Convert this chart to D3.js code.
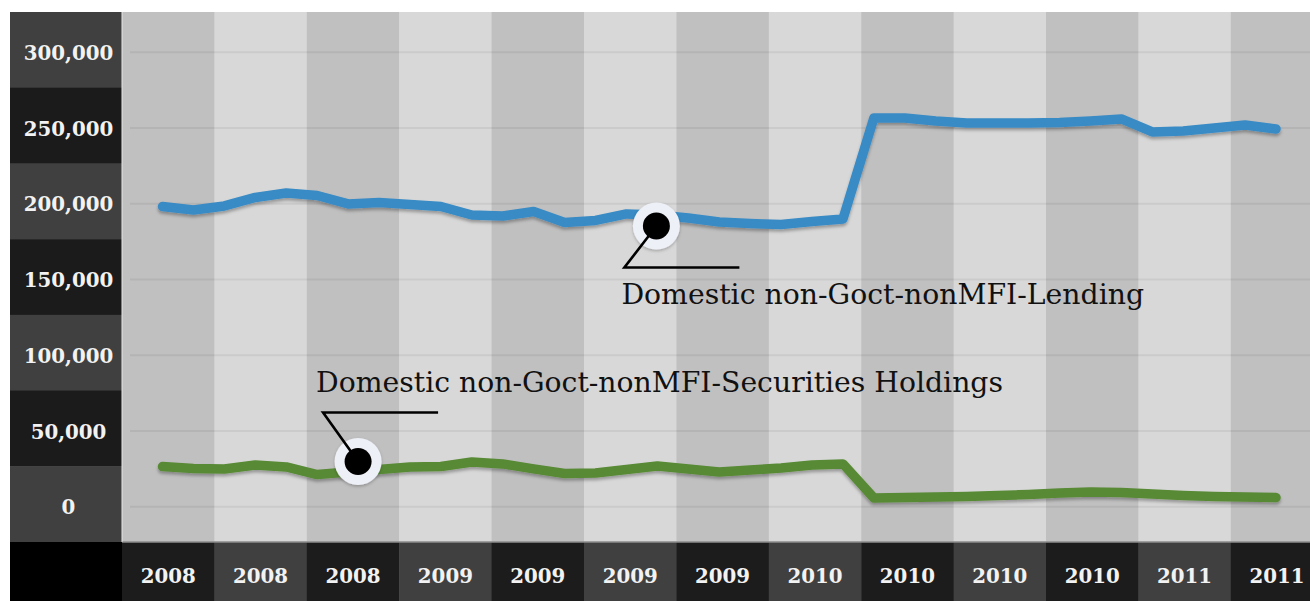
<!DOCTYPE html>
<html>
<head>
<meta charset="utf-8">
<script src="https://cdn.jsdelivr.net/npm/d3@7"></script>
<style>
  html, body { margin: 0; padding: 0; background: #ffffff; overflow: hidden; }
  svg { display: block; }
</style>
</head>
<body>
<svg id="chart" width="1310" height="601"></svg>
<script>
// ---- data ----
const yearLabels = ["2008", "2008", "2008", "2009", "2009", "2009", "2009",
                    "2010", "2010", "2010", "2010", "2011", "2011"];

const tickValues = [0, 50000, 100000, 150000, 200000, 250000, 300000];

const months = [
  "2008-05", "2008-06", "2008-07", "2008-08", "2008-09", "2008-10", "2008-11", "2008-12",
  "2009-01", "2009-02", "2009-03", "2009-04", "2009-05", "2009-06", "2009-07", "2009-08",
  "2009-09", "2009-10", "2009-11", "2009-12", "2010-01", "2010-02", "2010-03", "2010-04",
  "2010-05", "2010-06", "2010-07", "2010-08", "2010-09", "2010-10", "2010-11", "2010-12",
  "2011-01", "2011-02", "2011-03", "2011-04", "2011-05"
];

// Domestic non-government, non-MFI lending
const lending = [
  198200, 195900, 198600, 204200, 207100, 205500, 199900, 200900,
  199600, 198200, 192600, 191900, 194900, 187700, 189000, 193300,
  192600, 190600, 188000, 187000, 186300, 188300, 190000, 256700,
  256700, 254700, 253300, 253300, 253300, 253700, 254700, 256000,
  247400, 248100, 250000, 252000, 249400
];

// Domestic non-government, non-MFI securities holdings
const securities = [
  26600, 25300, 25000, 27600, 26300, 21300, 23000, 24600,
  26300, 26600, 29600, 28300, 25000, 22000, 22300, 24600,
  26900, 25000, 23000, 24300, 25600, 27600, 28300, 5800,
  6100, 6500, 6800, 7500, 8100, 9100, 9800, 9400,
  8400, 7500, 6800, 6500, 6100
];

// ---- layout ----
const W = 1310, H = 601;
const panelLeft = 10, plotLeft = 122, plotTop = 12, plotBottom = 542;
const colWidth = 92.4;

const svg = d3.select("#chart");
const defs = svg.append("defs");

const shadow = defs.append("filter")
  .attr("id", "lineShadow")
  .attr("x", "-5%").attr("y", "-30%")
  .attr("width", "110%").attr("height", "160%");
shadow.append("feDropShadow")
  .attr("dx", 0).attr("dy", 2.5)
  .attr("stdDeviation", 1.6)
  .attr("flood-color", "#000")
  .attr("flood-opacity", 0.3);

const markShadow = defs.append("filter")
  .attr("id", "markShadow")
  .attr("x", "-30%").attr("y", "-30%")
  .attr("width", "160%").attr("height", "160%");
markShadow.append("feDropShadow")
  .attr("dx", 0).attr("dy", 1.5)
  .attr("stdDeviation", 1.5)
  .attr("flood-color", "#000")
  .attr("flood-opacity", 0.25);

// ---- scales ----
const xCol = d3.scaleBand()
  .domain(d3.range(yearLabels.length))
  .range([plotLeft, plotLeft + yearLabels.length * colWidth])
  .padding(0);

const x = d3.scalePoint()
  .domain(months)
  .range([162.5, 1276]);

const y = d3.scaleLinear()
  .domain([0, 300000])
  .range([506.8, 52.3]);

const yBand = d3.scaleBand()
  .domain(tickValues.slice().reverse())
  .range([plotTop, plotBottom])
  .padding(0);

// ---- plot background columns ----
svg.append("g")
  .selectAll("rect")
  .data(yearLabels)
  .join("rect")
  .attr("x", (d, i) => xCol(i))
  .attr("y", plotTop)
  .attr("width", xCol.bandwidth() + 0.5)
  .attr("height", plotBottom - plotTop)
  .attr("fill", (d, i) => i % 2 === 0 ? "#c1c0c1" : "#d8d8d8");

// ---- horizontal gridlines ----
svg.append("g")
  .selectAll("line")
  .data(tickValues)
  .join("line")
  .attr("x1", 130).attr("x2", W)
  .attr("y1", d => y(d)).attr("y2", d => y(d))
  .attr("stroke", "#000")
  .attr("stroke-opacity", 0.06)
  .attr("stroke-width", 2);

// ---- y axis panel ----
const yAxis = svg.append("g");
yAxis.selectAll("rect")
  .data(yBand.domain())
  .join("rect")
  .attr("x", panelLeft)
  .attr("y", d => yBand(d))
  .attr("width", plotLeft - panelLeft)
  .attr("height", yBand.bandwidth() + 0.5)
  .attr("fill", (d, i) => i % 2 === 0 ? "#404040" : "#1b1b1b");

const fmt = d3.format(",");
yAxis.selectAll("text")
  .data(tickValues)
  .join("text")
  .attr("x", 68.5)
  .attr("y", d => y(d) + 0.5)
  .attr("text-anchor", "middle")
  .attr("dominant-baseline", "central")
  .attr("font-family", "'DejaVu Serif', serif")
  .attr("font-weight", "bold")
  .attr("font-size", 19.8)
  .attr("fill", "#f2f2f2")
  .text(d => fmt(d));

// ---- x axis strip ----
const xAxis = svg.append("g");
xAxis.append("rect")
  .attr("x", panelLeft).attr("y", plotBottom)
  .attr("width", plotLeft - panelLeft).attr("height", H - plotBottom)
  .attr("fill", "#000");

xAxis.selectAll("rect.cell")
  .data(yearLabels)
  .join("rect")
  .attr("class", "cell")
  .attr("x", (d, i) => xCol(i))
  .attr("y", plotBottom)
  .attr("width", xCol.bandwidth() + 0.5)
  .attr("height", H - plotBottom)
  .attr("fill", (d, i) => i % 2 === 0 ? "#1c1c1c" : "#404040");

xAxis.selectAll("text")
  .data(yearLabels)
  .join("text")
  .attr("x", (d, i) => xCol(i) + xCol.bandwidth() / 2)
  .attr("y", 575.5)
  .attr("text-anchor", "middle")
  .attr("dominant-baseline", "central")
  .attr("font-family", "'DejaVu Serif', serif")
  .attr("font-weight", "bold")
  .attr("font-size", 19.8)
  .attr("fill", "#f2f2f2")
  .text(d => d);

// separators between panels
svg.append("line")
  .attr("x1", plotLeft).attr("x2", W)
  .attr("y1", plotBottom).attr("y2", plotBottom)
  .attr("stroke", "#8c8c8c").attr("stroke-width", 1.5);
svg.append("line")
  .attr("x1", plotLeft).attr("x2", plotLeft)
  .attr("y1", plotTop).attr("y2", plotBottom)
  .attr("stroke", "#e6e6e6").attr("stroke-width", 1);

// ---- series lines ----
const line = d3.line()
  .x((d, i) => x(months[i]))
  .y(d => y(d))
  .curve(d3.curveLinear);

const seriesList = [
  { values: securities, color: "#588a35" },
  { values: lending, color: "#398bc5" }
];

svg.append("g")
  .selectAll("path")
  .data(seriesList)
  .join("path")
  .attr("d", d => line(d.values))
  .attr("fill", "none")
  .attr("stroke", d => d.color)
  .attr("stroke-width", 9.5)
  .attr("stroke-linejoin", "round")
  .attr("stroke-linecap", "round")
  .attr("filter", "url(#lineShadow)");

// ---- annotations ----
const annotations = [
  { values: lending, idx: 16, dx: -1, dy: 11,
    elbow: [-32, 41.5], end: [83, 41.5], textAt: [-35, 78], width: 523,
    text: "Domestic non-Goct-nonMFI-Lending" },
  { values: securities, idx: 6, dx: 10, dy: -10.5,
    elbow: [-35, -49], end: [80, -49], textAt: [-42, -69], width: 687,
    text: "Domestic non-Goct-nonMFI-Securities Holdings" }
];

const ann = svg.append("g")
  .selectAll("g")
  .data(annotations)
  .join("g")
  .attr("transform", d => `translate(${x(months[d.idx]) + d.dx},${y(d.values[d.idx]) + d.dy})`);

ann.append("circle")
  .attr("r", 23.5)
  .attr("fill", "#eef0f7")
  .attr("filter", "url(#markShadow)");

ann.append("polyline")
  .attr("points", d => `0,0 ${d.elbow[0]},${d.elbow[1]} ${d.end[0]},${d.end[1]}`)
  .attr("fill", "none")
  .attr("stroke", "#000")
  .attr("stroke-width", 2.6)
  .attr("stroke-linejoin", "miter");

ann.append("circle")
  .attr("r", 13.5)
  .attr("fill", "#000");

ann.append("text")
  .attr("x", d => d.textAt[0])
  .attr("y", d => d.textAt[1])
  .attr("font-family", "'DejaVu Serif', serif")
  .attr("font-size", 25)
  .attr("fill", "#111")
  .text(d => d.text)
  .each(function (d) {
    const w = this.getComputedTextLength();
    if (w > 0) d3.select(this).attr("font-size", 25 * d.width / w);
  });
</script>
</body>
</html>
